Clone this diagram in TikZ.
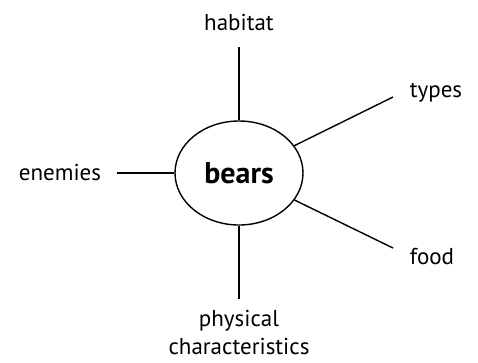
\documentclass[tikz,border=0pt]{standalone}
\usepackage{fontspec}
\setmainfont{PT Sans}
\usetikzlibrary{positioning, shapes.geometric}

\begin{document}
\begin{tikzpicture}[
  x=1pt, y=-1pt,
  hub/.style={draw, ellipse, line width=1.4pt, minimum width=128pt, minimum height=104pt, inner sep=0pt, font=\bfseries\fontsize{30}{34}\selectfont},
  topic/.style={align=center, inner sep=0pt, font=\fontsize{23}{28}\selectfont},
  spoke/.style={line width=1.4pt}
]
\useasboundingbox (0,0) rectangle (478,362);
\node[hub] (bears) at (239,173) {bears};
\node[topic, anchor=base] (habitat) at (239,30) {habitat};
\node[topic, anchor=base] (types) at (436,97) {types};
\node[topic, anchor=base] (enemies) at (60,180) {enemies};
\node[topic, anchor=base] (food) at (432,264) {food};
\node[topic, anchor=north] (physical) at (239,310) {physical\\characteristics};
\coordinate (habitatEnd) at (239,47);
\coordinate (typesEnd) at (393,97);
\coordinate (enemiesEnd) at (117,173);
\coordinate (foodEnd) at (393,248);
\coordinate (physicalEnd) at (239,299);
\draw[spoke] (bears) -- (habitatEnd);
\draw[spoke] (bears) -- (typesEnd);
\draw[spoke] (bears) -- (enemiesEnd);
\draw[spoke] (bears) -- (foodEnd);
\draw[spoke] (bears) -- (physicalEnd);
\end{tikzpicture}
\end{document}
